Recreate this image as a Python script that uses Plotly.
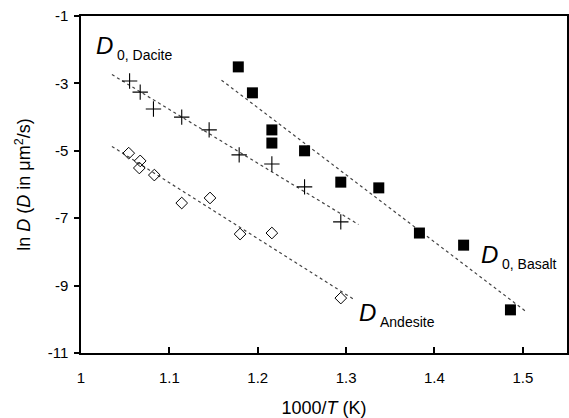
import numpy as np
import plotly.graph_objects as go

# Basalt (filled squares)
basalt_x = [1.178, 1.194, 1.216, 1.216, 1.253, 1.294, 1.337, 1.383, 1.433, 1.486]
basalt_y = [-2.51, -3.28, -4.38, -4.77, -5.00, -5.93, -6.10, -7.44, -7.80, -9.72]
# Dacite (plus)
dacite_x = [1.055, 1.067, 1.082, 1.114, 1.145, 1.179, 1.216, 1.253, 1.294]
dacite_y = [-2.93, -3.26, -3.76, -4.00, -4.38, -5.12, -5.39, -6.07, -7.11]
# Andesite (open diamonds)
andesite_x = [1.054, 1.067, 1.066, 1.083, 1.114, 1.146, 1.180, 1.216, 1.294]
andesite_y = [-5.07, -5.30, -5.51, -5.72, -6.55, -6.40, -7.47, -7.44, -9.37]

# extents of the fitted trend lines
basalt_fit_x = [1.159, 1.505]
dacite_fit_x = [1.035, 1.314]
andesite_fit_x = [1.035, 1.310]

x_ticks = [1, 1.1, 1.2, 1.3, 1.4, 1.5]
y_ticks = [-1, -3, -5, -7, -9, -11]

FONT = "Liberation Sans, Arial, sans-serif"
fig = go.Figure()

def fit_line(xs, ys, ext):
    k, b = np.polyfit(xs, ys, 1)
    ex = np.array(ext)
    return ex, k * ex + b

for xs, ys, ext in [(basalt_x, basalt_y, basalt_fit_x),
                    (dacite_x, dacite_y, dacite_fit_x),
                    (andesite_x, andesite_y, andesite_fit_x)]:
    lx, ly = fit_line(xs, ys, ext)
    fig.add_trace(go.Scatter(x=lx, y=ly, mode="lines",
                             line=dict(color="#444", width=1.2, dash="dot"),
                             showlegend=False, hoverinfo="skip"))

fig.add_trace(go.Scatter(x=basalt_x, y=basalt_y, mode="markers",
                         marker=dict(symbol="square", size=11, color="black"),
                         showlegend=False))
fig.add_trace(go.Scatter(x=dacite_x, y=dacite_y, mode="markers",
                         marker=dict(symbol="cross-thin", size=11,
                                     line=dict(color="black", width=1.1)),
                         showlegend=False))
fig.add_trace(go.Scatter(x=andesite_x, y=andesite_y, mode="markers",
                         marker=dict(symbol="diamond-open", size=9, color="black",
                                     line=dict(width=1)),
                         showlegend=False))

W, H = 569, 418
L, R, T, B = 81, 2, 16, 65
pw, ph = W - L - R, H - T - B
def px(x, y):
    return (x - L) / pw, (H - B - y) / ph

def label(xp, yp, sub, subdx):
    xa, ya = px(xp, yp)
    fig.add_annotation(x=xa, y=ya, xref="paper", yref="paper", text="<i>D</i>",
                       showarrow=False, xanchor="left", yanchor="bottom",
                       font=dict(family=FONT, size=24, color="black"))
    xs_, ys_ = px(xp + subdx, yp + 4)
    fig.add_annotation(x=xs_, y=ys_, xref="paper", yref="paper", text=sub,
                       showarrow=False, xanchor="left", yanchor="bottom",
                       font=dict(family=FONT, size=14, color="black"))

label(94, 61, "0, Dacite", 21)
label(479, 270, "0, Basalt", 21)
label(357, 328, "Andesite", 21)

fig.update_layout(
    width=W, height=H,
    margin=dict(l=L, r=R, t=T, b=B),
    plot_bgcolor="white", paper_bgcolor="white",
    font=dict(family=FONT, size=15, color="black"),
    xaxis=dict(range=[1, 1.55], tickvals=x_ticks, ticktext=[str(v) for v in x_ticks],
               ticks="inside", ticklen=6, tickwidth=1.5, tickcolor="black",
               showline=True, linewidth=1.5, linecolor="black", mirror=True,
               showgrid=False, zeroline=False, automargin=False,
               ticklabelstandoff=10,
               title=dict(text="1000/<i>T</i> (K)", standoff=26),
               tickfont=dict(size=15)),
    yaxis=dict(range=[-11, -1], tickvals=y_ticks, ticktext=[str(v) for v in y_ticks],
               ticks="outside", ticklen=5, tickwidth=1.5, tickcolor="black",
               showline=True, linewidth=1.5, linecolor="black", mirror=True,
               showgrid=False, zeroline=False, automargin=False,
               ticklabelstandoff=3,
               title=dict(text="ln <i>D</i> (<i>D</i> in μm<sup>2</sup>/s)", standoff=12),
               tickfont=dict(size=15)),
)

fig.write_html("out.html", config={"displayModeBar": False},
               post_script="document.body.style.margin='0';document.body.style.overflow='hidden';")
